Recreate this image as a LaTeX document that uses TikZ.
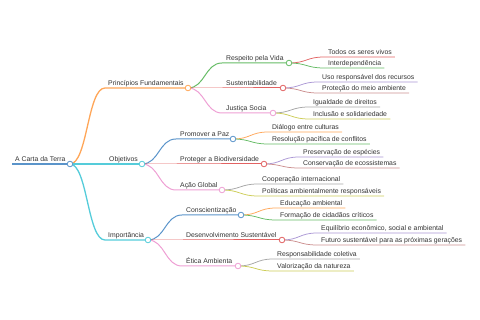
\documentclass[tikz,border=0pt]{standalone}
\usepackage{fontspec}
\setmainfont{Liberation Sans}
\usetikzlibrary{calc,positioning}
\definecolor{cblue}{HTML}{5A94CA}
\definecolor{corange}{HTML}{FFA658}
\definecolor{cgreen}{HTML}{66BC66}
\definecolor{cred}{HTML}{E26262}
\definecolor{cpurple}{HTML}{AA96D4}
\definecolor{cbrown}{HTML}{CC9090}
\definecolor{cpink}{HTML}{EEA0D4}
\definecolor{cgray}{HTML}{A6A6A6}
\definecolor{colive}{HTML}{CDCD58}
\definecolor{ccyan}{HTML}{55CCDA}
\definecolor{ctext}{HTML}{333333}

\begin{document}
\begin{tikzpicture}[
  x=1pt, y=-1pt,
  lbl/.style={font=\fontsize{6.85}{8}\selectfont, inner sep=0pt, anchor=base west, text=ctext},
  dot/.style={circle, draw=#1, fill=white, line width=0.8pt, minimum size=5.6pt, inner sep=0pt},
  link/.style={to path={let \p1=(\tikztostart), \p2=(\tikztotarget), \n1={(\x1+\x2)/2}
               in .. controls (\n1,\y1) and (\n1,\y2) .. (\tikztotarget)}},
  lvl0/.style={line width=1.8pt},
  lvl1/.style={line width=1.3pt},
  lvl2/.style={line width=1pt},
  lvl3/.style={line width=0.75pt}
]
\useasboundingbox (0,0) rectangle (480,320);

% root
\coordinate (root-s) at (12,164);
\coordinate (root) at (70,164);
\node[lbl] (root-t) at ([xshift=3pt,yshift=2pt]root-s) {A Carta da Terra};
\draw[lvl0, cblue] (root-s) -- (root);

% first level
\coordinate (princ-s) at (105,88);  \coordinate (princ) at (188,88);
\coordinate (obj-s) at (105,164);   \coordinate (obj) at (142,164);
\coordinate (imp-s) at (105,240);   \coordinate (imp) at (148,240);
\node[lbl] (princ-t) at ([xshift=3pt,yshift=2pt]princ-s) {Princípios Fundamentais};
\node[lbl] (obj-t) at ([xshift=4pt,yshift=2pt]obj-s) {Objetivos};
\node[lbl] (imp-t) at ([xshift=3pt,yshift=2pt]imp-s) {Importância};
\draw[lvl1, corange] (root) to[link] (princ-s) -- (princ);
\draw[lvl1, ccyan] (root) to[link] (obj-s) -- (obj);
\draw[lvl1, ccyan] (root) to[link] (imp-s) -- (imp);

% second level
\foreach \nm/\pa/\xa/\ya/\xb/\cl/\tx in {
    resp/princ/222/63/289/cgreen/{Respeito pela Vida},
    sust/princ/222/88/283/cred/{Sustentabilidade},
    just/princ/222/113/273/cpink/{Justiça Socia},
    paz/obj/176/139/233/cblue/{Promover a Paz},
    bio/obj/176/164/264/cred/{Proteger a Biodiversidade},
    acao/obj/176/190/222/cpink/{Ação Global},
    consc/imp/182/215/241/cblue/{Conscientização},
    desenv/imp/182/240/282/cred/{Desenvolvimento Sustentável},
    etica/imp/182/266/238/cpink/{Ética Ambienta}}{
  \coordinate (\nm-s) at (\xa,\ya);
  \coordinate (\nm) at (\xb,\ya);
  \node[lbl] (\nm-t) at ([xshift=4pt,yshift=2pt]\nm-s) {\tx};
  \draw[lvl2, \cl] (\pa) to[link] (\nm-s) -- (\nm);
}

% leaves
\foreach \nm/\pa/\xa/\ya/\cl/\tx in {
    todos/resp/324/57/cred/{Todos os seres vivos},
    inter/resp/324/68/cgreen/{Interdependência},
    uso/sust/318/82/cpurple/{Uso responsável dos recursos},
    prot/sust/318/93/cbrown/{Proteção do meio ambiente},
    igual/just/309/107/cgray/{Igualdade de direitos},
    incl/just/309/119/colive/{Inclusão e solidariedade},
    dial/paz/268/132/corange/{Diálogo entre culturas},
    resol/paz/268/144/cgreen/{Resolução pacífica de conflitos},
    pres/bio/299/157/cpurple/{Preservação de espécies},
    cons/bio/299/168/cbrown/{Conservação de ecossistemas},
    coop/acao/258/184/cgray/{Cooperação internacional},
    polit/acao/258/196/colive/{Políticas ambientalmente responsáveis},
    educ/consc/276/208/corange/{Educação ambiental},
    form/consc/276/220/cgreen/{Formação de cidadãos críticos},
    equil/desenv/317/233/cpurple/{Equilíbrio econômico, social e ambiental},
    futuro/desenv/317/245/cbrown/{Futuro sustentável para as próximas gerações},
    resp2/etica/273/259/cgray/{Responsabilidade coletiva},
    valor/etica/273/271/colive/{Valorização da natureza}}{
  \coordinate (\nm-s) at (\xa,\ya);
  \node[lbl] (\nm) at ([xshift=4pt,yshift=2pt]\nm-s) {\tx};
  \draw[lvl3, \cl] (\pa) to[link] (\nm-s) -- ([xshift=3pt]\nm.east |- \nm-s);
}

% circles on top
\foreach \nm/\cl in {root/cblue, princ/corange, obj/ccyan, imp/ccyan,
    resp/cgreen, sust/cred, just/cpink, paz/cblue, bio/cred, acao/cpink,
    consc/cblue, desenv/cred, etica/cpink}
  \node[dot=\cl] (\nm-dot) at (\nm) {};
\end{tikzpicture}
\end{document}
